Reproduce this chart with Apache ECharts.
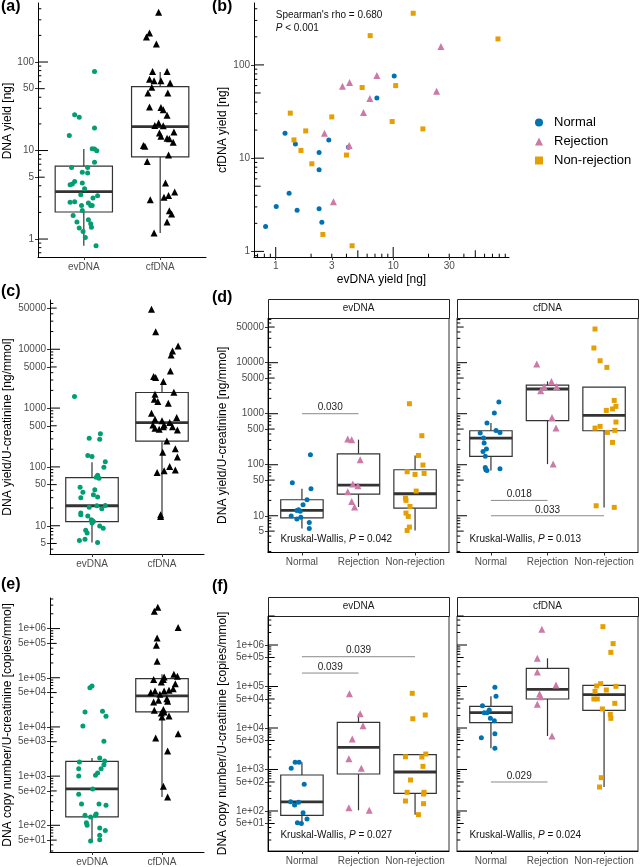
<!DOCTYPE html>
<html><head><meta charset="utf-8">
<script src="https://cdn.jsdelivr.net/npm/echarts@6/dist/echarts.min.js"></script>
<style>html,body{margin:0;padding:0;background:#fff}#chart{width:640px;height:867px}</style>
</head><body><div id="chart"></div>
<script>
// ---------------- DATA ----------------
const sources = ['evDNA', 'cfDNA'];
const groups = ['Normal', 'Rejection', 'Non-rejection'];

// (a) DNA yield [ng]
const aEvVal = [78,25.4,23.7,18,14.8,10.5,10.4,9.96,7.35,6.45,6.45,5.67,5.56,4.48,4.11,4.2,4.3,3.7,3.17,3.09,2.9,2.6,2.64,2.55,2.4,2.39,2.4,2.1,1.84,1.56,1.65,1.49,1.36,1.33,1.22,1.04,0.84];
const aEvJit = [0.14,-0.12,-0.06,0.14,-0.19,0.11,0.14,0.17,0.14,-0.16,0.05,-0.02,0.05,-0.12,-0.18,-0.15,-0.02,0.01,-0.04,0.18,0.12,-0.18,-0.12,0.06,0.09,0.11,-0.03,-0.02,-0.14,-0.09,0.06,0.09,0.10,-0.06,-0.01,0.02,0.16];
const aCfVal = [364,213,192,160,78,78,64,61.5,61.5,58,52,44.7,44.7,31,30.7,28.9,25,19.2,20.5,19,15.8,16.2,14.5,13.8,13.6,12.4,11.4,11.2,8.9,7.5,4.3,3.4,3.1,2.96,2.78,2.09,1.92,1.56,1.17];
const aCfJit = [-0.02,-0.14,-0.18,-0.05,-0.10,0.09,-0.14,-0.08,0.01,0.13,-0.11,-0.16,0.10,-0.14,0.01,0.04,0.09,-0.07,-0.02,0.04,-0.01,0.18,0.01,0.09,0.12,0.17,-0.22,-0.20,0.11,-0.17,0.07,0.19,0.11,0.05,-0.13,0.12,0.15,0.09,-0.08];
const aEvBox = [0.84, 2.02, 3.43, 6.68, 10.4];   // lower whisker, Q1, median, Q3, upper whisker
const aCfBox = [1.17, 8.5, 18.6, 52.6, 77];
const aTicks = [1, 5, 10, 50, 100];
const aTickLabels = ['1', '5', '10', '50', '100'];

// (b) evDNA yield vs cfDNA yield
const bNormalX = [0.82,1.01,1.2,1.3,1.47,1.52,2.34,2.34,2.34,2.47,2.83,4.16,7.26,10.2];
const bNormalY = [1.85,3.03,18.5,4.2,14.2,2.77,11.5,7.5,2.87,2.05,15.7,13.1,44.3,76];
const bRejX = [2.6,3.1,3.7,4.25,4.22,5.59,6.33,7.26,23.4,25.5];
const bRejY = [18.5,3.4,59,64.7,13.7,30.9,43.6,76.9,52.2,158];
const bNonX = [1.33,1.43,1.64,1.8,2.03,2.52,3.0,4.0,4.47,5.44,6.37,9.8,10.5,14.8,17.9,78];
const bNonY = [30.4,15.7,12.1,19.6,8.7,1.52,27.7,10.8,1.15,57.2,206,24.7,60,358,20.6,190];
const bXTicks = [1, 3, 10, 30];
const bYTicks = [1, 10, 100];
const bNote1 = "Spearman's rho = 0.680";
const bNote2 = ['P', ' < 0.001'];

// (c) DNA yield / U-creatinine [ng/mmol]
const cEvVal = [1570,308,365,296,156,150,122,99,72,67,64,45,37,41,33.6,30,30.7,20.7,21.9,22,19.4,16.4,15.4,14.6,12.6,12.3,11.8,11.1,9.9,9.1,8.4,7.5,5.9,5.6,5.2];
const cEvJit = [-0.25,-0.04,0.12,0.11,-0.06,0.00,0.19,0.17,0.08,0.06,0.10,-0.17,-0.13,0.04,0.02,-0.16,0.08,-0.04,0.07,0.19,0.14,-0.16,-0.16,-0.06,-0.01,0.00,0.02,0.00,0.11,0.16,-0.09,-0.07,-0.10,-0.18,0.08];
const cCfVal = [47700,19900,11400,9360,8000,4280,3430,3300,2820,1860,1720,1410,1290,1210,819,647,690,607,568,518,518,455,437,480,480,426,277,178,203,148,102,89,80,86,15.4,14.4];
const cCfJit = [-0.15,-0.09,0.23,0.15,0.13,0.12,-0.12,-0.09,0.02,0.17,-0.10,-0.11,-0.06,0.09,-0.15,-0.10,0.21,0.00,0.11,0.03,-0.13,-0.10,-0.04,0.02,0.15,0.22,0.07,0.01,0.19,0.22,0.11,0.19,-0.07,0.03,-0.02,-0.02];
const cEvBox = [5.2, 11.8, 21.9, 66, 120];
const cCfBox = [14.4, 274, 568, 1840, 2700];
const ngTicks = [5, 10, 50, 100, 500, 1000, 5000, 10000, 50000];
const ngTickLabels = ['5', '10', '50', '100', '500', '1000', '5000', '10000', '50000'];

// (e) DNA copy number / U-creatinine [copies/mmol]
const eEvVal = [63000,68000,20200,20800,16500,10500,5100,2340,1940,2030,1710,1420,1420,1160,1040,1010,548,428,272,272,255,160,170,160,148,113,100,88,78,63,51,48];
const eEvJit = [-0.03,0.00,-0.10,0.15,0.20,-0.13,0.17,0.11,-0.18,0.18,0.17,0.13,-0.19,0.08,0.05,-0.19,0.01,-0.19,-0.15,0.10,0.20,-0.10,0.06,0.05,-0.02,-0.08,-0.07,0.11,0.19,0.11,0.11,-0.02];
const eCfVal = [2720000,2250000,1050000,646000,458000,217000,118000,107000,92000,92000,82000,104000,76000,49900,54000,46000,55700,54000,60000,34800,32200,37600,33300,21800,22500,19300,20200,16000,16700,5970,7310,3250,621,377];
const eCfJit = [-0.06,-0.11,0.23,-0.07,-0.08,-0.07,0.17,0.22,-0.12,0.02,-0.01,0.03,0.19,-0.16,-0.10,-0.03,0.10,0.03,0.16,-0.05,-0.12,0.07,0.08,-0.11,0.02,-0.01,0.03,0.00,0.10,-0.09,0.23,0.08,0.02,0.08];
const eEvBox = [48, 148, 548, 2000, 2340];
const eCfBox = [377, 20200, 42700, 96100, 118000];
const cpTicks = [50, 100, 500, 1000, 5000, 10000, 50000, 100000, 500000, 1000000];
const cpTickLabels = ['5e+01', '1e+02', '5e+02', '1e+03', '5e+03', '1e+04', '5e+04', '1e+05', '5e+05', '1e+06'];

// (d) yield / U-creatinine by group
const dEvNormVal = [157,44.4,33.8,20.6,16.4,12.7,12.2,9.84,8.6,9.4,7.4,5.65,13.1];
const dEvNormJit = [0.15,-0.17,0.16,0.09,0.02,-0.09,-0.03,-0.19,-0.09,-0.02,0.13,0.13,-0.06];
const dEvRejVal = [318,309,125,41.8,38.7,29.6,19.1,14.8];
const dEvRejJit = [-0.19,-0.12,0.03,-0.10,-0.01,-0.19,-0.12,-0.07];
const dEvNonVal = [1570,371,152,98.6,73,64.6,67.6,30.5,22.2,20,15.2,11.3,9.7,6.0,5.15];
const dEvNonJit = [-0.10,0.12,0.06,0.14,-0.14,0.00,0.16,0.02,-0.17,-0.16,-0.09,-0.16,-0.12,-0.10,-0.14];
const dEvBoxes = [[5.65, 9.1, 12.7, 20.6, 33.8], [14.8, 26.6, 39.9, 164, 310], [5.15, 14.1, 27, 79.8, 152]];
const dCfNormVal = [1690,1030,656,418,471,430,333,266,203,182,146,88.7,79.8,77.4,83.6];
const dCfNormJit = [0.14,0.06,-0.07,-0.19,0.09,0.16,-0.13,-0.12,-0.08,-0.14,-0.10,-0.10,-0.09,-0.07,0.16];
const dCfRejVal = [9420,4300,3430,3430,2820,847,523,103];
const dCfRejJit = [-0.19,0.07,0.16,-0.06,-0.12,0.08,0.15,0.10];
const dCfNonVal = [45700,19400,10900,8090,1820,1390,1240,1160,687,523,565,471,430,274,15.7,14.6];
const dCfNonJit = [-0.16,-0.18,-0.07,0.05,0.18,0.21,0.15,0.04,0.21,-0.16,-0.07,0.19,0.06,0.15,-0.14,0.18];
const dCfBoxes = [[77.4, 146, 333, 464, 656], [103, 730, 3050, 3650, 4300], [14.6, 464, 927, 3330, 3330]];
const dEvPairs = [[1, 2, 1000, '0.030']];
const dCfPairs = [[1, 2, 20, '0.018'], [1, 3, 10, '0.033']];
const dEvKW = ['Kruskal-Wallis, ', 'P', ' = 0.042'];
const dCfKW = ['Kruskal-Wallis, ', 'P', ' = 0.013'];
const dKWpos = [0.62, 3.54];

// (f) copy number / U-creatinine by group
const fEvNormVal = [1490,1490,1070,440,168,162,140,91,64,52,50];
const fEvNormJit = [-0.12,-0.05,-0.19,0.04,-0.20,-0.06,-0.13,0.02,0.09,-0.08,-0.01];
const fEvRejVal = [67100,22100,11400,5430,1820,1070,120,104];
const fEvRejJit = [-0.16,0.03,0.08,-0.11,-0.17,0.05,-0.17,0.19];
const fEvNonVal = [68500,16700,20600,2030,2000,2360,1190,558,282,282,257,174,150,81.5];
const fEvNonJit = [-0.05,-0.04,0.18,-0.17,0.12,0.19,0.14,-0.08,-0.14,0.16,0.15,-0.17,0.15,0.06];
const fEvBoxes = [[50, 78.7, 165, 736, 1490], [104, 780, 3420, 13700, 22100], [81.5, 267, 871, 2280, 2280]];
const fCfNormVal = [95500,57900,34500,23400,27200,23400,17100,15000,7300,5850,3240];
const fCfNormJit = [0.07,0.09,-0.15,-0.12,-0.03,-0.07,-0.01,0.06,0.07,-0.17,0.07];
const fCfRejVal = [2390000,478000,224000,109000,65900,56900,37200,6410];
const fCfRejJit = [-0.10,-0.18,-0.18,0.15,-0.14,-0.12,-0.18,0.08];
const fCfNonVal = [2770000,1080000,665000,117000,103000,101000,82400,76500,50000,50000,39300,28700,21300,17100,635,378];
const fCfNonJit = [-0.02,0.16,0.12,-0.06,-0.13,0.21,0.04,-0.16,-0.18,-0.12,0.19,-0.03,0.11,0.12,-0.05,-0.08];
const fCfBoxes = [[3240, 13500, 23400, 33300, 57900], [6410, 50000, 85500, 274000, 478000], [378, 26700, 63500, 107000, 107000]];
const fEvPairs = [[1, 3, 522000, '0.039'], [1, 2, 211000, '0.039']];
const fCfPairs = [[1, 2, 500, '0.029']];
const fEvKW = ['Kruskal-Wallis, ', 'P', ' = 0.027'];
const fCfKW = ['Kruskal-Wallis, ', 'P', ' = 0.024'];
const fKWpos = [0.62, 25.4];

// ---------------- STYLE ----------------
const FONT = 'Liberation Sans, Arial, Helvetica, sans-serif';
const COL = { ev: '#009E73', cf: '#000000', Normal: '#0072B2', Rejection: '#CC79A7', 'Non-rejection': '#E69F00' };
const SYM = { Normal: 'circle', Rejection: 'triangle', 'Non-rejection': 'rect' };
const SIZE = { circle: 5, triangle: 7, rect: 5 };
const TICKLEN = { dec: 10, mid: 6.7, sm: 3.3 };
const L = v => Math.log10(v);

const grids = [], xAxes = [], yAxes = [], series = [], graphics = [];

function addGrid(left, top, width, height, border) {
  grids.push({ left, top, width, height, show: !!border, borderColor: '#333', borderWidth: 1,
    backgroundColor: 'transparent', containLabel: false, outerBoundsMode: 'none' });
  return grids.length - 1;
}

// annotation_logticks-style ticks at 1..9 x 10^k inside the panel
function logSets(min, max) {
  const out = [];
  for (let k = Math.floor(min) - 1; k <= Math.ceil(max) + 1; k++) {
    for (let m = 1; m <= 9; m++) {
      const v = k + Math.log10(m);
      if (v < min - 1e-9 || v > max + 1e-9) continue;
      out.push([v, m === 1 ? TICKLEN.dec : m === 5 ? TICKLEN.mid : TICKLEN.sm]);
    }
  }
  return out;
}

function logTicks(xi, yi, dim, min, max, otherMin) {
  const sets = logSets(min, max);
  series.push({ type: 'custom', xAxisIndex: xi, yAxisIndex: yi, z: 6, silent: true, animation: false, clip: false,
    data: sets.map(s => dim === 'y' ? [otherMin, s[0], s[1]] : [s[0], otherMin, s[1]]),
    encode: { x: 0, y: 1 },
    renderItem: (params, api) => {
      const p = api.coord([api.value(0), api.value(1)]);
      const len = api.value(2);
      const shape = dim === 'y' ? { x1: p[0], y1: p[1], x2: p[0] + len, y2: p[1] } : { x1: p[0], y1: p[1], x2: p[0], y2: p[1] - len };
      return { type: 'line', shape, style: { stroke: '#000', lineWidth: 1 } };
    } });
}

function logAxis(list, dim, gi, min, max, ticks, labels, opt) {
  const tv = ticks.map(L);
  const ax = { type: 'value', gridIndex: gi, min, max, position: dim === 'y' ? 'left' : 'bottom',
    splitLine: { show: false }, silent: true, axisPointer: { show: false },
    axisLine: { show: opt.line !== false, onZero: false, lineStyle: { color: '#000', width: 1 } },
    axisTick: { show: !!opt.labels, length: 3, customValues: tv, lineStyle: { color: '#333', width: 1 } },
    axisLabel: { show: !!opt.labels, customValues: tv, margin: 4, color: '#4d4d4d', fontSize: 10, fontFamily: FONT,
      formatter: v => { let bi = 0, bd = 1e9; tv.forEach((t, i) => { const d = Math.abs(t - v); if (d < bd) { bd = d; bi = i; } }); return labels[bi]; } } };
  if (opt.name) {
    Object.assign(ax, { name: opt.name, nameLocation: 'middle', nameGap: opt.nameGap,
      nameRotate: dim === 'y' ? 90 : 0,
      nameTextStyle: { fontSize: 12, fontFamily: FONT, color: '#000', padding: opt.namePad || 0 } });
  }
  list.push(ax);
  return list.length - 1;
}

function catAxis(gi, cats, line) {
  const tv = cats.map((c, i) => i + 1);
  xAxes.push({ type: 'value', gridIndex: gi, min: 0.4, max: cats.length + 0.6, position: 'bottom',
    splitLine: { show: false }, silent: true,
    axisLine: { show: line !== false, onZero: false, lineStyle: { color: '#000', width: 1 } },
    axisTick: { length: 3, customValues: tv, lineStyle: { color: '#333' } },
    axisLabel: { customValues: tv, margin: 5, color: '#4d4d4d', fontSize: 10, fontFamily: FONT,
      formatter: v => cats[Math.round(v) - 1] } });
  return xAxes.length - 1;
}

function scatter(xi, yi, name, xs, ys, color, symbol, logX) {
  series.push({ type: 'scatter', name, xAxisIndex: xi, yAxisIndex: yi, symbol, symbolSize: SIZE[symbol],
    itemStyle: { color, opacity: 1 }, z: 5, silent: true, animation: false,
    data: xs.map((x, i) => [logX ? L(x) : x, L(ys[i])]) });
}

function jittered(xi, yi, name, center, jit, vals, color, symbol) {
  scatter(xi, yi, name, jit.map(j => center + j), vals, color, symbol, false);
}

function boxes(xi, yi, stats) {
  series.push({ type: 'custom', xAxisIndex: xi, yAxisIndex: yi, z: 2, silent: true, animation: false,
    data: stats.map((st, i) => [i + 1].concat(st.map(L))),
    encode: { x: 0, y: [1, 2, 3, 4, 5] },
    renderItem: (params, api) => {
      const x = api.value(0), hw = 0.375;
      const lw = api.value(1), q1 = api.value(2), md = api.value(3), q3 = api.value(4), uw = Math.max(api.value(5), q3);
      const c = (a, b) => api.coord([a, b]);
      const ls = { stroke: '#333', lineWidth: 1.2 };
      const tl = c(x - hw, q3), br = c(x + hw, q1), mL = c(x - hw, md), mR = c(x + hw, md);
      const a1 = c(x, q3), a2 = c(x, uw), b1 = c(x, q1), b2 = c(x, lw);
      return { type: 'group', children: [
        { type: 'line', shape: { x1: a1[0], y1: a1[1], x2: a2[0], y2: a2[1] }, style: ls },
        { type: 'line', shape: { x1: b1[0], y1: b1[1], x2: b2[0], y2: b2[1] }, style: ls },
        { type: 'rect', shape: { x: tl[0], y: tl[1], width: br[0] - tl[0], height: br[1] - tl[1] },
          style: { fill: '#fff', stroke: '#333', lineWidth: 1.2 } },
        { type: 'line', shape: { x1: mL[0], y1: mL[1], x2: mR[0], y2: mR[1] }, style: { stroke: '#333', lineWidth: 2.8 } }
      ] };
    } });
}

function brackets(xi, yi, pairs) {
  series.push({ type: 'custom', xAxisIndex: xi, yAxisIndex: yi, z: 4, silent: true, animation: false,
    data: pairs.map(p => [p[0], L(p[2]), p[1]]),
    encode: { x: [0, 2], y: 1 },
    renderItem: (params, api) => {
      const p1 = api.coord([api.value(0), api.value(1)]), p2 = api.coord([api.value(2), api.value(1)]);
      return { type: 'group', children: [
        { type: 'line', shape: { x1: p1[0], y1: p1[1], x2: p2[0], y2: p2[1] }, style: { stroke: '#8a8a8a', lineWidth: 1 } },
        { type: 'text', x: (p1[0] + p2[0]) / 2, y: p1[1] - 1,
          style: { text: pairs[params.dataIndex][3], fill: '#222', font: '10px ' + FONT, textAlign: 'center', textVerticalAlign: 'bottom' } }
      ] };
    } });
}

function note(xi, yi, x, y, parts, logX) {
  series.push({ type: 'custom', xAxisIndex: xi, yAxisIndex: yi, z: 4, silent: true, animation: false,
    data: [[logX ? L(x) : x, L(y)]], encode: { x: 0, y: 1 },
    renderItem: (params, api) => {
      const p = api.coord([api.value(0), api.value(1)]);
      const txt = parts.map((s, i) => (i === 1 ? '{i|' + s + '}' : '{n|' + s + '}')).join('');
      return { type: 'text', x: p[0], y: p[1],
        style: { text: txt, textAlign: 'left', textVerticalAlign: 'middle',
          rich: { n: { fontSize: 10, fontFamily: FONT, fill: '#111', color: '#111' },
                  i: { fontSize: 10, fontFamily: FONT, fontStyle: 'italic', fill: '#111', color: '#111' } } } };
    } });
}

function strip(left, top, width, height, text) {
  graphics.push({ type: 'rect', left, top, shape: { width, height }, style: { fill: '#fff', stroke: '#222', lineWidth: 1 }, silent: true });
  graphics.push({ type: 'text', x: left + width / 2, y: top + height / 2,
    style: { text, fill: '#1a1a1a', font: '10px ' + FONT, textAlign: 'center', textVerticalAlign: 'middle' }, silent: true });
}

function letter(x, y, t) {
  graphics.push({ type: 'text', x, y, style: { text: t, fill: '#000', font: 'bold 16px ' + FONT, textAlign: 'left', textVerticalAlign: 'top' }, silent: true });
}

// ---------------- PANELS ----------------
// (a)
{
  const ymin = -0.203, ymax = 2.667;
  const g = addGrid(38, 3, 168, 254, false);
  const xi = catAxis(g, sources);
  const yi = logAxis(yAxes, 'y', g, ymin, ymax, aTicks, aTickLabels, { labels: true, name: 'DNA yield [ng]', nameGap: 24, namePad: [0, 0, 0, 18] });
  logTicks(xi, yi, 'y', ymin, ymax, 0.4);
  boxes(xi, yi, [aEvBox, aCfBox]);
  jittered(xi, yi, 'evDNA', 1, aEvJit, aEvVal, COL.ev, 'circle');
  jittered(xi, yi, 'cfDNA', 2, aCfJit, aCfVal, COL.cf, 'triangle');
}
// (b)
{
  const xmin = -0.185, xmax = 1.986, ymin = -0.06, ymax = 2.664;
  const g = addGrid(254, 3, 255, 254, false);
  const xi = logAxis(xAxes, 'x', g, xmin, xmax, bXTicks, bXTicks.map(String), { labels: true, name: 'evDNA yield [ng]', nameGap: 17 });
  const yi = logAxis(yAxes, 'y', g, ymin, ymax, bYTicks, bYTicks.map(String), { labels: true, name: 'cfDNA yield [ng]', nameGap: 25 });
  logTicks(xi, yi, 'y', ymin, ymax, xmin);
  logTicks(xi, yi, 'x', xmin, xmax, ymin);
  scatter(xi, yi, 'Normal', bNormalX, bNormalY, COL.Normal, SYM.Normal, true);
  scatter(xi, yi, 'Rejection', bRejX, bRejY, COL.Rejection, SYM.Rejection, true);
  scatter(xi, yi, 'Non-rejection', bNonX, bNonY, COL['Non-rejection'], SYM['Non-rejection'], true);
  note(xi, yi, 1, 343, ['', '', bNote1], true);
  note(xi, yi, 1, 249, ['', bNote2[0], bNote2[1]], true);
}
// (c)
{
  const ymin = 0.52, ymax = 4.837;
  const g = addGrid(50, 300, 154, 254, false);
  const xi = catAxis(g, sources);
  const yi = logAxis(yAxes, 'y', g, ymin, ymax, ngTicks, ngTickLabels, { labels: true, name: 'DNA yield/U-creatinine [ng/mmol]', nameGap: 36 });
  logTicks(xi, yi, 'y', ymin, ymax, 0.4);
  boxes(xi, yi, [cEvBox, cCfBox]);
  jittered(xi, yi, 'evDNA', 1, cEvJit, cEvVal, COL.ev, 'circle');
  jittered(xi, yi, 'cfDNA', 2, cCfJit, cCfVal, COL.cf, 'triangle');
}
// (e)
{
  const ymin = 1.457, ymax = 6.622;
  const g = addGrid(50, 598, 154, 254, false);
  const xi = catAxis(g, sources);
  const yi = logAxis(yAxes, 'y', g, ymin, ymax, cpTicks, cpTickLabels, { labels: true, name: 'DNA copy number/U-creatinine [copies/mmol]', nameGap: 36 });
  logTicks(xi, yi, 'y', ymin, ymax, 0.4);
  boxes(xi, yi, [eEvBox, eCfBox]);
  jittered(xi, yi, 'evDNA', 1, eEvJit, eEvVal, COL.ev, 'circle');
  jittered(xi, yi, 'cfDNA', 2, eCfJit, eCfVal, COL.cf, 'triangle');
}
// facets (d) and (f)
function facet(left, top, height, ymin, ymax, ticks, labels, name, withAxis, grpVals, grpJits, boxStats, pairs, kw, kwPos) {
  const g = addGrid(left, top, 181, height, true);
  const xi = catAxis(g, groups);
  const yi = logAxis(yAxes, 'y', g, ymin, ymax, ticks, labels, withAxis ? { labels: true, name, nameGap: 39 } : { labels: false, line: false });
  logTicks(xi, yi, 'y', ymin, ymax, 0.4);
  boxes(xi, yi, boxStats);
  groups.forEach((gr, k) => jittered(xi, yi, gr, k + 1, grpJits[k], grpVals[k], COL[gr], SYM[gr]));
  brackets(xi, yi, pairs);
  note(xi, yi, kwPos[0], kwPos[1], kw, false);
}
facet(268, 318, 234.5, 0.28, 4.876, ngTicks, ngTickLabels, 'DNA yield/U-creatinine [ng/mmol]', true,
  [dEvNormVal, dEvRejVal, dEvNonVal], [dEvNormJit, dEvRejJit, dEvNonJit], dEvBoxes, dEvPairs, dEvKW, dKWpos);
facet(457, 318, 234.5, 0.28, 4.876, ngTicks, ngTickLabels, '', false,
  [dCfNormVal, dCfRejVal, dCfNonVal], [dCfNormJit, dCfRejJit, dCfNonJit], dCfBoxes, dCfPairs, dCfKW, dKWpos);
facet(268, 616, 235, 1.036, 6.699, cpTicks, cpTickLabels, 'DNA copy number/U-creatinine [copies/mmol]', true,
  [fEvNormVal, fEvRejVal, fEvNonVal], [fEvNormJit, fEvRejJit, fEvNonJit], fEvBoxes, fEvPairs, fEvKW, fKWpos);
facet(457, 616, 235, 1.036, 6.699, cpTicks, cpTickLabels, '', false,
  [fCfNormVal, fCfRejVal, fCfNonVal], [fCfNormJit, fCfRejJit, fCfNonJit], fCfBoxes, fCfPairs, fCfKW, fKWpos);

strip(268, 299, 181, 19, sources[0]);
strip(457, 299, 181, 19, sources[1]);
strip(268, 597, 181, 19, sources[0]);
strip(457, 597, 181, 19, sources[1]);

letter(1, -1, '(a)'); letter(212, -1, '(b)');
letter(1, 284, '(c)'); letter(212, 290, '(d)');
letter(1, 577, '(e)'); letter(212, 579, '(f)');

const chart = echarts.init(document.getElementById('chart'), null, { renderer: 'canvas' });
chart.setOption({
  animation: false,
  backgroundColor: '#fff',
  textStyle: { fontFamily: FONT },
  grid: grids, xAxis: xAxes, yAxis: yAxes, series,
  legend: { data: groups, orient: 'vertical', left: 530, top: 111, itemWidth: 8, itemHeight: 8, itemGap: 6,
    selectedMode: false, textStyle: { fontSize: 13, fontFamily: FONT, color: '#000', padding: [0, 0, 0, 6] } },
  graphic: graphics
});
</script></body></html>
